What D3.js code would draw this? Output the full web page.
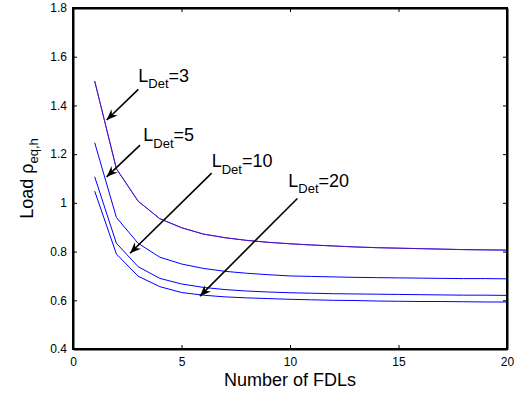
<!DOCTYPE html>
<html>
<head>
<meta charset="utf-8">
<script src="https://cdn.jsdelivr.net/npm/d3@7"></script>
<style>
  body { margin: 0; background: #fff; }
  svg { display: block; font-family: "Liberation Sans", Arial, Helvetica, sans-serif; }
</style>
</head>
<body>
<svg id="chart" width="519" height="393"></svg>
<script>
// number of FDLs
const fdls = d3.range(1, 21);

// load values, one array per detection length
const loadDet3 = [1.50, 1.14, 1.007, 0.935, 0.898, 0.872, 0.857, 0.846, 0.838, 0.832,
  0.827, 0.823, 0.819, 0.816, 0.814, 0.812, 0.810, 0.808, 0.807, 0.806];
const loadDet5 = [1.247, 0.94, 0.834, 0.777, 0.749, 0.731, 0.719, 0.711, 0.705, 0.700,
  0.698, 0.696, 0.694, 0.693, 0.692, 0.691, 0.690, 0.689, 0.689, 0.688];
const loadDet10 = [1.107, 0.834, 0.738, 0.690, 0.667, 0.653, 0.644, 0.638, 0.634, 0.631,
  0.629, 0.627, 0.626, 0.625, 0.624, 0.623, 0.622, 0.621, 0.621, 0.620];
const loadDet20 = [1.048, 0.79, 0.699, 0.656, 0.632, 0.621, 0.614, 0.610, 0.607, 0.604,
  0.602, 0.600, 0.599, 0.597, 0.596, 0.595, 0.595, 0.594, 0.593, 0.593];

const xTicks = [0, 5, 10, 15, 20];
const yTicks = [0.4, 0.6, 0.8, 1, 1.2, 1.4, 1.6, 1.8];

// annotation labels + arrows, in data units: [labelX, labelY, tailX, tailY, tipX, tipY]
const detLabels = ["3", "5", "10", "20"];
const annotations = [
  [3.01, 1.497, 3.01, 1.466, 1.55, 1.34],
  [3.24, 1.253, 3.09, 1.237, 1.55, 1.107],
  [6.39, 1.146, 6.39, 1.122, 2.63, 0.793],
  [9.92, 1.066, 10.34, 1.018, 5.85, 0.617],
];

const svg = d3.select("#chart");
const width = +svg.attr("width");
const height = +svg.attr("height");
const margin = { top: 8, left: 73, right: 12, bottom: 44 };
const innerWidth = width - margin.left - margin.right;
const innerHeight = height - margin.top - margin.bottom;

const xScale = d3.scaleLinear().domain([0, 20]).range([0, innerWidth]);
const yScale = d3.scaleLinear().domain([0.4, 1.8]).range([innerHeight, 0]);

const chart = svg.append("g")
  .attr("transform", `translate(${margin.left},${margin.top})`);

// box first, curves over it
chart.append("path")
  .attr("d", `M0,0H${innerWidth}V${innerHeight}H0Z`)
  .attr("fill", "none")
  .attr("stroke", "#000")
  .attr("stroke-width", 2);

// curves
const line = d3.line()
  .x((d, i) => xScale(fdls[i]))
  .y((d) => yScale(d));

const series = [
  { values: loadDet20, color: "#0000ff" },
  { values: loadDet10, color: "#0000ff" },
  { values: loadDet5, color: "#0000ff" },
  { values: loadDet3, color: "#0000ff" },
  { values: loadDet3, color: "#7a10a0", opacity: 0.7 },
];
chart.selectAll(".curve").data(series).enter().append("path")
  .attr("class", "curve")
  .attr("fill", "none")
  .attr("stroke", (d) => d.color)
  .attr("stroke-opacity", (d) => d.opacity || 1)
  .attr("stroke-width", 1)
  .attr("d", (d) => line(d.values));

// axes with inward ticks, mirrored on top and right
const fmt = d3.format("~g");
const styleAxis = (g) => {
  g.select(".domain").attr("stroke", "#000").attr("stroke-width", 2);
  g.selectAll(".tick line").attr("stroke", "#000").attr("stroke-width", 1);
  g.selectAll(".tick text").attr("fill", "#000").attr("font-size", 12)
    .attr("font-family", "Liberation Sans, Arial, sans-serif");
};
chart.append("g")
  .attr("transform", `translate(0,${innerHeight})`)
  .call(d3.axisBottom(xScale).tickValues(xTicks).tickSizeInner(-4).tickSizeOuter(0).tickPadding(8).tickFormat(fmt))
  .call(styleAxis);
chart.append("g")
  .call(d3.axisTop(xScale).tickValues(xTicks).tickSizeInner(-4).tickSizeOuter(0).tickFormat(""))
  .call(styleAxis);
chart.append("g")
  .call(d3.axisLeft(yScale).tickValues(yTicks).tickSizeInner(-4).tickSizeOuter(0).tickPadding(6).tickFormat(fmt))
  .call(styleAxis);
chart.append("g")
  .attr("transform", `translate(${innerWidth},0)`)
  .call(d3.axisRight(yScale).tickValues(yTicks).tickSizeInner(-4).tickSizeOuter(0).tickFormat(""))
  .call(styleAxis);

// axis titles
chart.append("text")
  .attr("x", innerWidth / 2)
  .attr("y", innerHeight + 37)
  .attr("text-anchor", "middle")
  .attr("font-size", 18)
  .text("Number of FDLs");

const yTitle = chart.append("text")
  .attr("transform", `translate(${33 - margin.left},${innerHeight / 2}) rotate(-90)`)
  .attr("text-anchor", "middle")
  .attr("font-size", 18);
yTitle.append("tspan").text("Load \u03c1");
yTitle.append("tspan").attr("font-size", 13).attr("dy", 5).text("eq,h");

// arrows with notched heads
const arrowHead = (ax, ay, bx, by) => {
  const a = Math.atan2(by - ay, bx - ax);
  const len = 11, half = 4.5, back = 7.5;
  const pt = (l, w) => [bx - l * Math.cos(a) - w * Math.sin(a), by - l * Math.sin(a) + w * Math.cos(a)];
  const p1 = pt(len, half), p2 = pt(back, 0), p3 = pt(len, -half);
  return `M${bx},${by}L${p1}L${p2}L${p3}Z`;
};

const ann = chart.selectAll(".ann").data(annotations).enter().append("g").attr("class", "ann");
ann.append("line")
  .attr("x1", (d) => xScale(d[2])).attr("y1", (d) => yScale(d[3]))
  .attr("x2", (d) => xScale(d[4])).attr("y2", (d) => yScale(d[5]))
  .attr("stroke", "#000").attr("stroke-width", 1.6);
ann.append("path")
  .attr("d", (d) => arrowHead(xScale(d[2]), yScale(d[3]), xScale(d[4]), yScale(d[5])))
  .attr("fill", "#000");

const label = ann.append("text")
  .attr("x", (d) => xScale(d[0]))
  .attr("y", (d) => yScale(d[1]))
  .attr("font-size", 18);
label.append("tspan").text("L");
label.append("tspan").attr("font-size", 13).attr("dy", 6.5).text("Det");
label.append("tspan").attr("dy", -6.5).text((d, i) => "=" + detLabels[i]);
</script>
</body>
</html>
